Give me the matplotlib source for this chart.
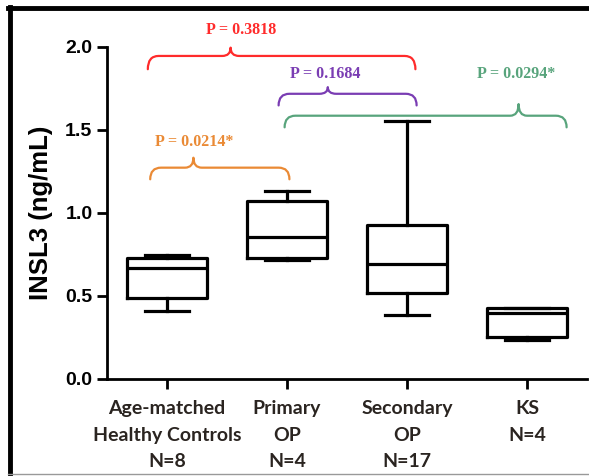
import matplotlib
matplotlib.use("Agg")
import matplotlib.pyplot as plt
from matplotlib.path import Path
from matplotlib.patches import PathPatch
from matplotlib.lines import Line2D

# box statistics (ng/mL)
groups = ["Age-matched\nHealthy Controls\nN=8", "Primary\nOP\nN=4",
          "Secondary\nOP\nN=17", "KS\nN=4"]
whislo = [0.41, 0.715, 0.385, 0.235]
q1 = [0.49, 0.727, 0.52, 0.25]
med = [0.667, 0.853, 0.69, 0.40]
q3 = [0.727, 1.075, 0.925, 0.426]
whishi = [0.745, 1.135, 1.555, 0.43]

p_labels = ["P = 0.3818", "P = 0.0214*", "P = 0.1684", "P = 0.0294*"]
p_colors = ["#ff2b2b", "#ea8a35", "#7a3db3", "#58a47c"]

# brace layout: x start, x end, tip x, line y, end drop, tip rise, text x, text y
braces = [
    (0.84, 3.07, 1.53, 1.946, 0.08, 0.05, 1.62, 2.10),
    (0.86, 2.02, 1.22, 1.273, 0.07, 0.06, 1.225, 1.43),
    (1.93, 3.08, 2.34, 1.718, 0.07, 0.04, 2.32, 1.84),
    (1.98, 4.33, 3.93, 1.586, 0.07, 0.07, 3.91, 1.84),
]


def brace(ax, x0, x1, xt, y, drop, rise, color):
    r = 0.09
    rt = 0.07
    verts = [(x0, y - drop), (x0, y), (x0 + r, y),
             (xt - rt, y), (xt, y), (xt, y + rise),
             (xt, y), (xt + rt, y),
             (x1 - r, y), (x1, y), (x1, y - drop)]
    codes = [Path.MOVETO, Path.CURVE3, Path.CURVE3,
             Path.LINETO, Path.CURVE3, Path.CURVE3,
             Path.CURVE3, Path.CURVE3,
             Path.LINETO, Path.CURVE3, Path.CURVE3]
    p = PathPatch(Path(verts, codes), fc="none", ec=color, lw=1.6,
                  clip_on=False, capstyle="round", joinstyle="round")
    ax.add_patch(p)


fig = plt.figure(figsize=(5.89, 4.76), dpi=100)
ax = fig.add_axes([0.1817, 0.2038, 0.8149, 0.6975])

stats = []
for i in range(len(groups)):
    stats.append(dict(med=med[i], q1=q1[i], q3=q3[i],
                      whislo=whislo[i], whishi=whishi[i], fliers=[]))

lw = 2.3
ax.bxp(stats, positions=[1, 2, 3, 4], widths=0.67, showfliers=False,
       boxprops=dict(color="black", lw=lw),
       medianprops=dict(color="black", lw=lw),
       whiskerprops=dict(color="black", lw=lw),
       capprops=dict(color="black", lw=lw), capwidths=0.36)

ax.set_xlim(0.5, 4.5)
ax.set_ylim(0, 2.0)
ax.set_yticks([0.0, 0.5, 1.0, 1.5, 2.0])
ax.set_yticklabels(["0.0", "0.5", "1.0", "1.5", "2.0"],
                   fontfamily="Liberation Sans", fontweight="bold", fontsize=14)
ax.set_xticks([1, 2, 3, 4])
ax.set_xticklabels(groups, fontfamily="Lato", fontweight="bold",
                   fontsize=14, color="#2a2420", linespacing=1.7)
ax.set_ylabel("INSL3 (ng/mL)", fontfamily="Liberation Sans", fontsize=18.5,
              fontweight="bold", labelpad=9)

for s in ["top", "right"]:
    ax.spines[s].set_visible(False)
for s in ["left", "bottom"]:
    ax.spines[s].set_linewidth(2)
ax.tick_params(width=2, length=7)
ax.tick_params(axis="x", pad=8)

for (x0, x1, xt, y, drop, rise, tx, ty), lab, col in zip(braces, p_labels, p_colors):
    brace(ax, x0, x1, xt, y, drop, rise, col)
    ax.text(tx, ty, lab, color=col, ha="center", va="center",
            fontfamily="Liberation Serif", fontweight="bold", fontsize=11.5,
            clip_on=False)

# picture frame
fig.add_artist(Line2D([0.013, 1.0], [0.983, 0.983], color="black", lw=3.5))
fig.add_artist(Line2D([0.0175, 0.0175], [0.0, 0.985], color="black", lw=3.5))
fig.add_artist(Line2D([0.013, 1.0], [0.004, 0.004], color="#999999", lw=1))

fig.savefig("out.png", dpi=100)
